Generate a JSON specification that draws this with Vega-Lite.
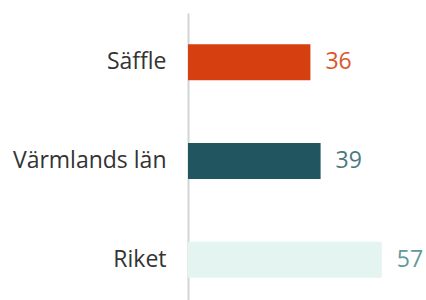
{
  "$schema": "https://vega.github.io/schema/vega-lite/v6.json",
  "autosize": {"type": "none"},
  "width": 204,
  "height": 296,
  "padding": {"left": 188, "top": 13, "right": 34, "bottom": 0},
  "background": "white",
  "config": {"view": {"stroke": null}, "font": "Open Sans"},
  "data": {"values": [
    {"region": "Säffle", "value": 36},
    {"region": "Värmlands län", "value": 39},
    {"region": "Riket", "value": 57}
  ]},
  "encoding": {
    "y": {
      "field": "region", "type": "nominal", "sort": null,
      "scale": {"paddingInner": 0.635, "paddingOuter": 0.315},
      "axis": {
        "title": null, "ticks": false, "domain": true,
        "domainColor": "#d4d4d4", "domainWidth": 2,
        "labelFont": "Open Sans", "labelFontWeight": "normal", "labelFontSize": 23,
        "labelColor": "#333333", "labelPadding": 22
      }
    },
    "x": {
      "field": "value", "type": "quantitative",
      "scale": {"domain": [0, 60]},
      "axis": null
    }
  },
  "layer": [
    {
      "mark": {"type": "bar"},
      "encoding": {
        "color": {
          "field": "region", "type": "nominal", "legend": null,
          "scale": {"domain": ["Säffle", "Värmlands län", "Riket"], "range": ["#d64011", "#21555f", "#e4f4f0"]}
        }
      }
    },
    {
      "mark": {"type": "text", "align": "left", "baseline": "middle", "dx": 15, "font": "Open Sans", "fontSize": 23},
      "encoding": {
        "text": {"field": "value", "type": "quantitative"},
        "color": {
          "field": "region", "type": "nominal", "legend": null,
          "scale": {"domain": ["Säffle", "Värmlands län", "Riket"], "range": ["#e0542a", "#4a7a80", "#62999a"]}
        }
      }
    }
  ],
  "resolve": {"scale": {"color": "independent"}}
}
